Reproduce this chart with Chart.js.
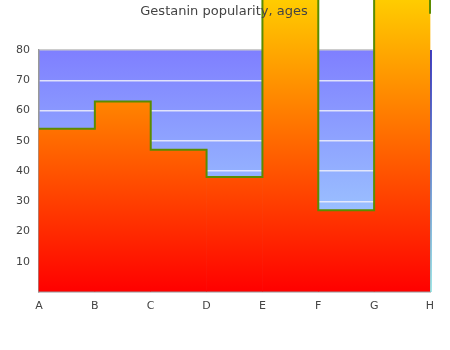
<!DOCTYPE html>
<html>
<head>
<meta charset="utf-8">
<script src="https://cdn.jsdelivr.net/npm/chart.js@4/dist/chart.umd.min.js"></script>
<style>html,body{margin:0;padding:0;background:#fff;}canvas{display:block;}</style>
</head>
<body>
<canvas id="c" width="450" height="350"></canvas>
<script>
const categories = ['A','B','C','D','E','F','G','H'];
const popularity = [54, 63, 47, 38, 110, 27, 105, 92];
const yMax = 80;
const yStep = 10;

const barData = popularity.slice(0, categories.length - 1).map((v, i) => ({x: i + 0.5, y: v}));
const lineData = popularity.map((v, i) => ({x: i, y: v}));

const bgPlugin = {
  id: 'plotBg',
  afterInit(chart) {
    const t = chart.titleBlock;
    if (t) {
      t._layers = () => [{z: 10, draw: (ca) => t.draw(ca)}];
    }
  },
  beforeDraw(chart) {
    const {ctx, chartArea: a} = chart;
    const g = ctx.createLinearGradient(0, a.top, 0, a.bottom);
    g.addColorStop(0, '#7f7fff');
    g.addColorStop(1, '#a8e0ff');
    ctx.save();
    ctx.fillStyle = g;
    ctx.fillRect(a.left, a.top, a.right - a.left, a.bottom - a.top);
    ctx.restore();
  },
  afterDatasetsDraw(chart) {
    const {ctx, chartArea: a} = chart;
    const g = ctx.createLinearGradient(0, a.top, 0, a.bottom);
    g.addColorStop(0, '#0000b0');
    g.addColorStop(1, '#80e0e0');
    ctx.save();
    ctx.strokeStyle = g;
    ctx.lineWidth = 1.5;
    ctx.beginPath();
    ctx.moveTo(a.right + 1, a.top);
    ctx.lineTo(a.right + 1, a.bottom);
    ctx.stroke();
    ctx.restore();
  }
};

const fillGrad = (c) => {
  const {ctx, chartArea} = c.chart;
  if (!chartArea) return '#ff0000';
  const g = ctx.createLinearGradient(0, chartArea.bottom, 0, 0);
  g.addColorStop(0, '#ff0000');
  g.addColorStop(1, '#ffcc00');
  return g;
};

const font = {family: 'DejaVu Sans', size: 11};

new Chart(document.getElementById('c'), {
  type: 'bar',
  data: {
    datasets: [
      {
        type: 'line',
        data: lineData,
        stepped: true,
        borderColor: '#5b8c00',
        borderWidth: 2,
        pointRadius: 0,
        fill: false,
        clip: false,
        order: 0
      },
      {
        type: 'bar',
        data: barData,
        backgroundColor: fillGrad,
        borderWidth: 0,
        barPercentage: 1,
        categoryPercentage: 1,
        clip: false,
        order: 1
      }
    ]
  },
  options: {
    responsive: false,
    devicePixelRatio: 1,
    animation: false,
    layout: {padding: {left: 0, right: 2, top: 0, bottom: 0}},
    plugins: {
      legend: {display: false},
      tooltip: {enabled: false},
      title: {
        display: true,
        text: 'Gestanin popularity, ages',
        color: '#444',
        font: {family: 'DejaVu Sans', size: 13, weight: 'normal'},
        padding: {top: 4, bottom: 30.4}
      }
    },
    scales: {
      x: {
        type: 'linear',
        min: 0,
        max: categories.length - 1,
        offset: false,
        grid: {display: false, drawTicks: false},
        border: {display: true, color: '#999', width: 1.5},
        ticks: {
          stepSize: 1,
          autoSkip: false,
          maxRotation: 0,
          color: '#444',
          font: font,
          padding: 8,
          callback: (v) => categories[v] ?? ''
        },
        afterFit: (s) => { s.height = 58; }
      },
      y: {
        min: 0,
        max: yMax,
        grid: {
          drawTicks: false,
          color: (c) => c.tick && c.tick.value === yMax ? '#cccccc' : 'rgba(240,240,250,0.85)',
          lineWidth: 1.5
        },
        border: {display: true, color: '#999', width: 1.5},
        ticks: {
          stepSize: yStep,
          color: '#444',
          font: font,
          padding: 9,
          callback: (v) => v === 0 ? '' : v
        },
        afterFit: (s) => { s.width = 39; }
      },
      y2: {
        position: 'right',
        min: 0,
        max: yMax,
        grid: {display: false, drawTicks: false},
        border: {display: false},
        ticks: {display: false},
        afterFit: (s) => { s.width = 18; }
      }
    }
  },
  plugins: [bgPlugin]
});
</script>
</body>
</html>
